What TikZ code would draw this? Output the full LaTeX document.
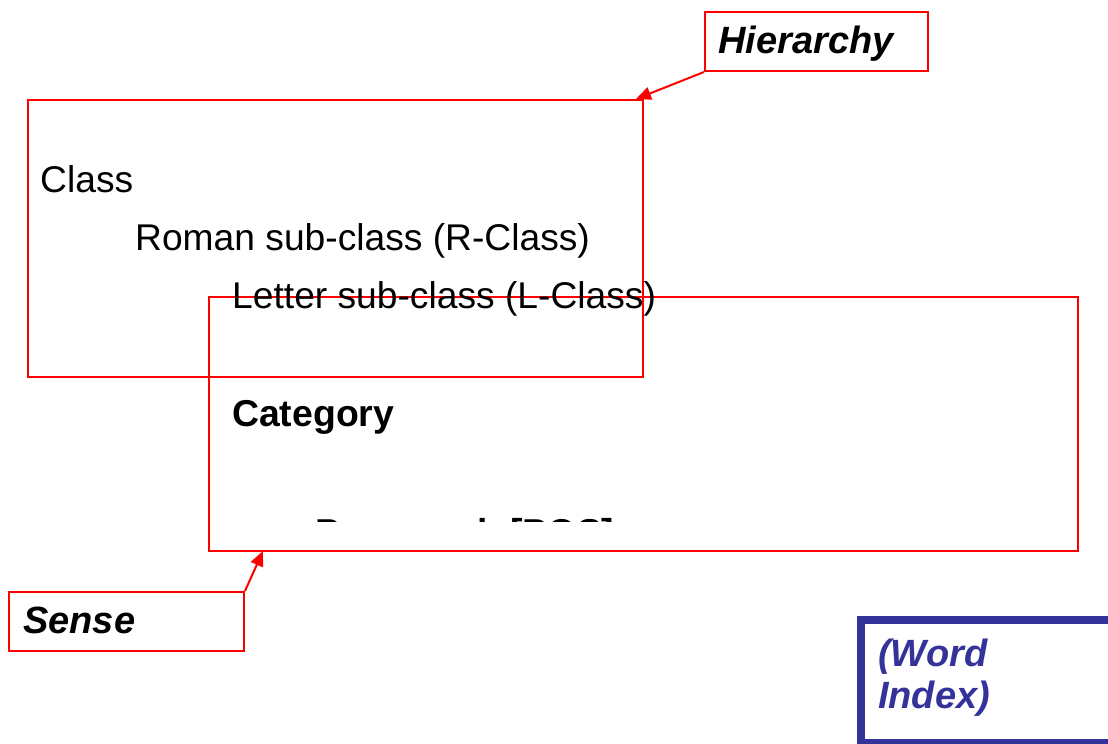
\documentclass[tikz,border=0pt]{standalone}
\usepackage{fontspec}
\setmainfont{Liberation Sans}
\usetikzlibrary{arrows.meta}
\definecolor{boxred}{HTML}{FF0000}
\definecolor{indexblue}{HTML}{333399}
\tikzset{
  redbox/.style={draw=boxred, line width=2pt, inner sep=0pt, anchor=north west},
  labeltext/.style={font=\fontsize{38}{40}\selectfont\bfseries\itshape, inner sep=0pt, anchor=base west},
  bodytext/.style={font=\fontsize{37.2}{40}\selectfont, inner sep=0pt, anchor=base west},
  boldtext/.style={font=\fontsize{37.4}{40}\selectfont\bfseries, inner sep=0pt, anchor=base west},
  pointer/.style={draw=boxred, line width=2pt, -{Triangle[length=15pt,width=13pt]}, boxred},
}
\begin{document}
\begin{tikzpicture}[x=1pt,y=-1pt]
\useasboundingbox (0,0) rectangle (1108,744);
\clip (0,0) rectangle (1108,744);

% outline boxes
\node[redbox, minimum width=615pt, minimum height=277pt] (hierbox) at (27,99) {};
\node[redbox, minimum width=869pt, minimum height=254pt] (sensebox) at (208,296) {};

% hierarchy levels
\node[bodytext] (class) at (40,192) {Class};
\node[bodytext] (rclass) at (135,250) {Roman sub-class (R-Class)};
\node[bodytext] (lclass) at (232,308) {Letter sub-class (L-Class)};

% sense levels
\node[boldtext] (category) at (232,426) {Category};
\begin{scope}
  \clip (300,480) rectangle (700,521.5);
  \node[boldtext] (paragraph) at (315,545) {Paragraph [POS]};
\end{scope}

% callouts
\node[redbox, minimum width=223pt, minimum height=59pt] (hierlabel) at (704,11) {};
\node[labeltext] (hiertext) at (718,53) {Hierarchy};
\coordinate (hiertip) at (636,99);
\draw[pointer] (hierlabel.south west) -- (hiertip);

\node[redbox, minimum width=235pt, minimum height=59pt] (senselabel) at (8,591) {};
\node[labeltext] (sensetext) at (23,633) {Sense};
\coordinate (sensetip) at (263,551);
\draw[pointer] (senselabel.north east) -- (sensetip);

% word index panel
\draw[draw=indexblue, line width=7.5pt] (1130,620) -- (861,620) -- (861,743) -- (1130,743);
\node[labeltext, text=indexblue] (wordtext) at (878,666) {(Word};
\node[labeltext, text=indexblue] (indextext) at (878,708) {Index)};
\end{tikzpicture}
\end{document}
